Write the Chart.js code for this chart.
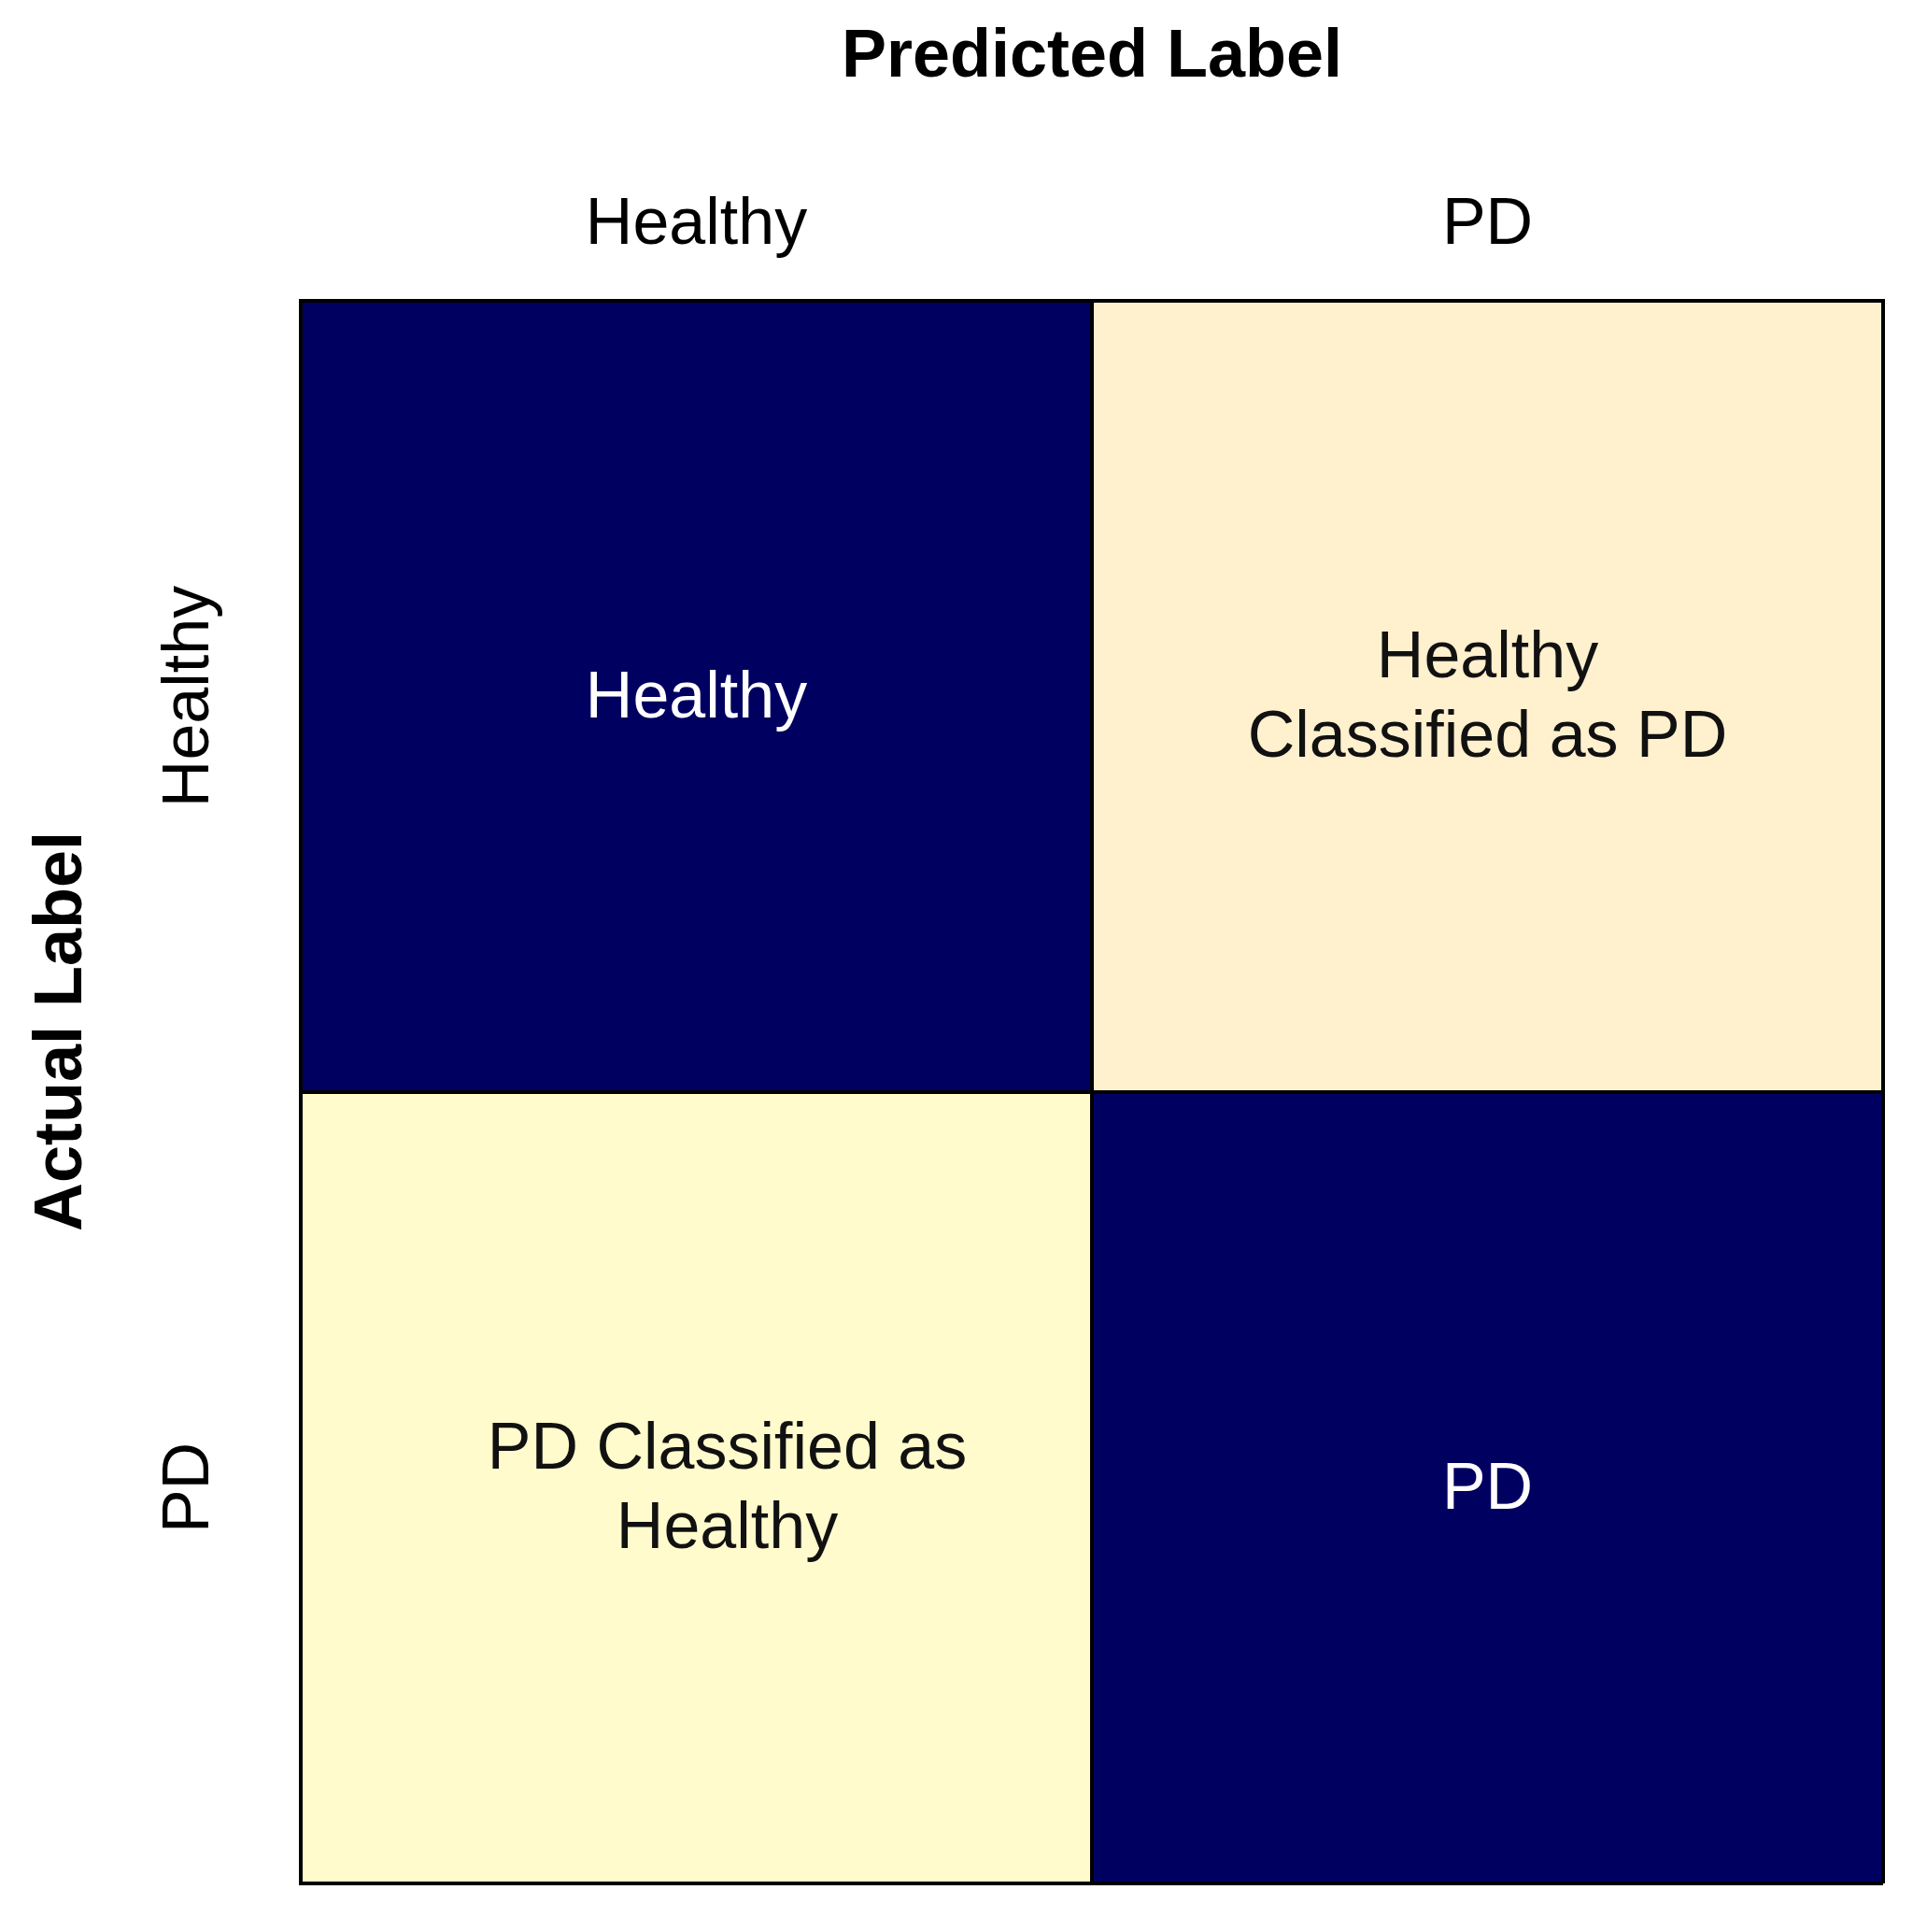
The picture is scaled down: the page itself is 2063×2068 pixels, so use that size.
<!DOCTYPE html>
<html>
<head>
<meta charset="utf-8">
<script src="https://cdn.jsdelivr.net/npm/chart.js@4/dist/chart.umd.min.js"></script>
<style>
  html, body { margin: 0; padding: 0; background: #ffffff; }
  #wrap { width: 2063px; height: 2068px; }
</style>
</head>
<body>
<div id="wrap"><canvas id="c" width="2063" height="2068"></canvas></div>
<script>
// ---- data ----
const predictedLabels = ['Healthy', 'PD'];
const actualLabels = ['Healthy', 'PD'];
const cellTexts = [
  ['Healthy', 'Healthy\nClassified as PD'],
  ['PD Classified as\nHealthy', 'PD']
];
const xTitle = 'Predicted Label';
const yTitle = 'Actual Label';

// ---- style ----
const FONT = "'Liberation Sans', Arial, Helvetica, sans-serif";
const cellFill = [
  ['#000060', '#FFF0CE'],
  ['#FFFBCC', '#000060']
];
const cellTextColor = [
  ['#ffffff', '#111111'],
  ['#111111', '#ffffff']
];

const datasets = actualLabels.map((rowLabel, i) => ({
  label: rowLabel,
  data: predictedLabels.map(() => [i, i + 1]),
  backgroundColor: cellFill[i],
  borderWidth: 0,
  borderSkipped: false,
  barPercentage: 1,
  categoryPercentage: 1,
  grouped: false
}));

const cellTextPlugin = {
  id: 'cellText',
  afterDraw(chart, args, opts) {
    const ctx = chart.ctx;
    const xs = chart.scales.x, ys = chart.scales.y;
    ctx.save();
    ctx.font = '70px ' + FONT;
    ctx.textAlign = 'center';
    ctx.textBaseline = 'middle';
    for (let i = 0; i < actualLabels.length; i++) {
      for (let j = 0; j < predictedLabels.length; j++) {
        const lines = cellTexts[i][j].split('\n');
        const cx = xs.getPixelForValue(j) + opts.shiftX[i][j];
        const cy = ys.getPixelForValue(i + 0.5) + opts.shiftY;
        ctx.fillStyle = cellTextColor[i][j];
        lines.forEach((ln, k) => {
          ctx.fillText(ln, cx, cy + (k - (lines.length - 1) / 2) * opts.lineHeight);
        });
      }
    }
    // y axis title (rotated), placed left of the tick labels
    const a = chart.chartArea;
    ctx.font = 'bold 72px ' + FONT;
    ctx.fillStyle = '#000000';
    ctx.translate(a.left + opts.yTitleDX, (a.top + a.bottom) / 2 + opts.yTitleDY);
    ctx.rotate(-Math.PI / 2);
    ctx.fillText(yTitle, 0, 0);
    ctx.restore();
  }
};

new Chart(document.getElementById('c'), {
  type: 'bar',
  data: { labels: predictedLabels, datasets },
  plugins: [cellTextPlugin],
  options: {
    responsive: false,
    devicePixelRatio: 1,
    animation: false,
    layout: { padding: { left: 84.7, right: 47, top: 19, bottom: 52 } },
    plugins: {
      legend: { display: false },
      tooltip: { enabled: false },
      cellText: { shiftX: [[0, 0], [33, 0]], shiftY: 3, lineHeight: 85, yTitleDX: -255, yTitleDY: -65 }
    },
    scales: {
      x: {
        type: 'category',
        position: 'top',
        offset: true,
        grid: { display: true, offset: true, color: '#000000', lineWidth: 4, drawTicks: false, z: 1 },
        border: { display: true, color: '#000000', width: 4, z: 1 },
        ticks: { color: '#000000', font: { family: FONT, size: 70 }, padding: 38, maxRotation: 0, autoSkip: false },
        title: {
          display: true, text: xTitle, color: '#000000',
          font: { family: FONT, size: 72, weight: 'bold' },
          padding: { top: 0, bottom: 56.6 }
        }
      },
      y: {
        type: 'linear',
        position: 'left',
        min: 0, max: 2,
        reverse: true,
        afterBuildTicks: (scale) => {
          const t = [];
          for (let k = 0; k <= actualLabels.length * 2; k++) t.push({ value: k / 2 });
          scale.ticks = t;
        },
        afterFit: (scale) => {
          // rotated labels: give the axis box the full label length so nothing is clipped
          scale.width = scale._getLabelSizes().widest.width;
        },
        grid: {
          display: true, color: '#000000', drawTicks: false, z: 1,
          lineWidth: (c) => (c.tick && c.tick.value % 1 === 0) ? 4 : 0
        },
        border: { display: true, color: '#000000', width: 4, z: 1 },
        ticks: {
          color: '#000000', font: { family: FONT, size: 70 }, padding: 0,
          minRotation: 90, maxRotation: 90, crossAlign: 'center', autoSkip: false,
          callback: (v) => (v % 1 !== 0) ? actualLabels[Math.floor(v)] : ''
        },
        title: { display: false }
      }
    }
  }
});
</script>
</body>
</html>
